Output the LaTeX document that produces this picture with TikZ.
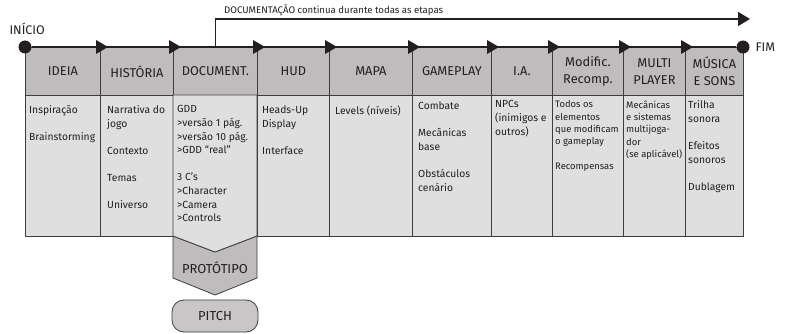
\documentclass[tikz,border=0pt]{standalone}
\usepackage{fontspec}
\setmainfont{Fira Sans}
\usetikzlibrary{arrows.meta,calc}

\definecolor{ink}{RGB}{35,31,32}
\definecolor{frame}{RGB}{62,60,60}
\definecolor{headfill}{RGB}{190,188,188}
\definecolor{bodyfill}{RGB}{224,223,223}
\definecolor{pitchfill}{RGB}{200,198,198}

\tikzset{
  head/.style={draw=frame, fill=headfill, line width=0.8pt, minimum height=48pt,
    inner sep=0pt, anchor=north west, align=center, text=ink,
    font=\fontsize{12.8}{16.5}\selectfont},
  bodybox/.style={draw=frame, fill=bodyfill, line width=0.8pt, minimum height=141pt,
    inner sep=0pt, anchor=north west},
  bodytext/.style={anchor=north west, align=left, inner sep=0pt, text=ink,
    font=\fontsize{10.3}{13.6}\selectfont},
  smalltext/.style={bodytext, font=\fontsize{9.4}{12.4}\selectfont},
  stagemark/.style={fill=ink},
  dot/.style={circle, fill=ink, inner sep=0pt, minimum size=13pt},
  endlabel/.style={text=ink, font=\fontsize{12.5}{14}\selectfont},
  shapebox/.style={draw=frame, line width=0.8pt},
  bigword/.style={text=ink, font=\fontsize{13}{15}\selectfont},
}

\begin{document}
\begin{tikzpicture}[x=1pt, y=-1pt]
\useasboundingbox (0,0) rectangle (786,334);

% prototype block under the documentation column
\path[shapebox, fill=headfill] (173,236) -- (215,252) -- (257,236) -- (257,278)
  -- (215,295) -- (173,278) -- cycle;
\node[bigword] (proto) at (215,268) {PROTÓTIPO};

% pitch
\node[shapebox, fill=pitchfill, rounded corners=12pt, minimum width=86pt,
  minimum height=32pt, inner sep=0pt, bigword] (pitch) at (215,316) {PITCH};

% header row
\node[head, minimum width=75pt] (h1) at (25,47) {IDEIA};
\node[head, minimum width=73pt] (h2) at (100,47) {HISTÓRIA};
\node[head, minimum width=84pt] (h3) at (173,47) {DOCUMENT.};
\node[head, minimum width=72pt] (h4) at (257,47) {HUD};
\node[head, minimum width=83pt] (h5) at (329,47) {MAPA};
\node[head, minimum width=79pt] (h6) at (412,47) {GAMEPLAY};
\node[head, minimum width=61pt] (h7) at (491,47) {I.A.};
\node[head, minimum width=71pt] (h8) at (552,47) {Modific.\\Recomp.};
\node[head, minimum width=62pt] (h9) at (623,47) {MULTI\\PLAYER};
\node[head, minimum width=58pt] (h10) at (685,47) {MÚSICA\\E SONS};

% body row
\node[bodybox, minimum width=75pt] (b1) at (25,95) {};
\node[bodybox, minimum width=73pt] (b2) at (100,95) {};
\path[shapebox, fill=bodyfill] (173,95) -- (173,236) -- (215,252) -- (257,236)
  -- (257,95) -- cycle;
\node[bodybox, minimum width=72pt] (b4) at (257,95) {};
\node[bodybox, minimum width=83pt] (b5) at (329,95) {};
\node[bodybox, minimum width=79pt] (b6) at (412,95) {};
\node[bodybox, minimum width=61pt] (b7) at (491,95) {};
\node[bodybox, minimum width=71pt] (b8) at (552,95) {};
\node[bodybox, minimum width=62pt] (b9) at (623,95) {};
\node[bodybox, minimum width=58pt] (b10) at (685,95) {};

% column contents
\node[bodytext] (t1) at (29,105.5) {Inspiração\\[13.6pt]Brainstorming};
\node[bodytext] (t2) at (107,105.5) {Narrativa do\\jogo\\[13.6pt]Contexto\\[13.6pt]Temas\\[13.6pt]Universo};
\node[bodytext] (t3) at (177,105.5) {GDD\\>versão 1 pág.\\>versão 10 pág.\\>GDD “real”\\[13.6pt]3 C’s\\>Character\\>Camera\\>Controls};
\node[bodytext] (t4) at (262,105.5) {Heads-Up\\Display\\[13.6pt]Interface};
\node[bodytext] (t5) at (335,105.5) {Levels (níveis)};
\node[bodytext] (t6) at (418,101.5) {Combate\\[13.6pt]Mecânicas\\base\\[13.6pt]Obstáculos\\cenário};
\node[bodytext] (t7) at (495,100.5) {NPCs\\(inimigos e\\outros)};
\node[smalltext] (t8) at (555,100.5) {Todos os\\elementos\\que modificam\\o gameplay\\[12.4pt]Recompensas};
\node[smalltext] (t9) at (626,100.5) {Mecânicas\\e sistemas\\multijoga-\\dor\\(se aplicável)};
\node[bodytext] (t10) at (688,100.5) {Trilha\\sonora\\[13.6pt]Efeitos\\sonoros\\[13.6pt]Dublagem};

% timeline
\node[dot] (start) at (25,47) {};
\node[dot] (finish) at (743,47) {};
\draw[ink, line width=2pt] (start) -- (finish);
\foreach \b in {100,173,257,329,412,491,552,623,685}
  \fill[stagemark] (\b-4,40) -- (\b+8,47) -- (\b-4,54) -- cycle;

\node[endlabel, anchor=west] (startlabel) at (6,29) {INÍCIO};
\node[endlabel, anchor=west] (finishlabel) at (752,47) {FIM};

% documentation runs through all stages
\coordinate (doctip) at (750,19);
\draw[ink, line width=1.5pt, -{Triangle[length=12pt, width=14pt]}]
  (h3.north) |- (doctip);
\node[text=ink, anchor=west, inner sep=0pt, font=\fontsize{9.6}{11}\selectfont]
  (doclabel) at (224,10) {DOCUMENTAÇÃO continua durante todas as etapas};
\end{tikzpicture}
\end{document}
